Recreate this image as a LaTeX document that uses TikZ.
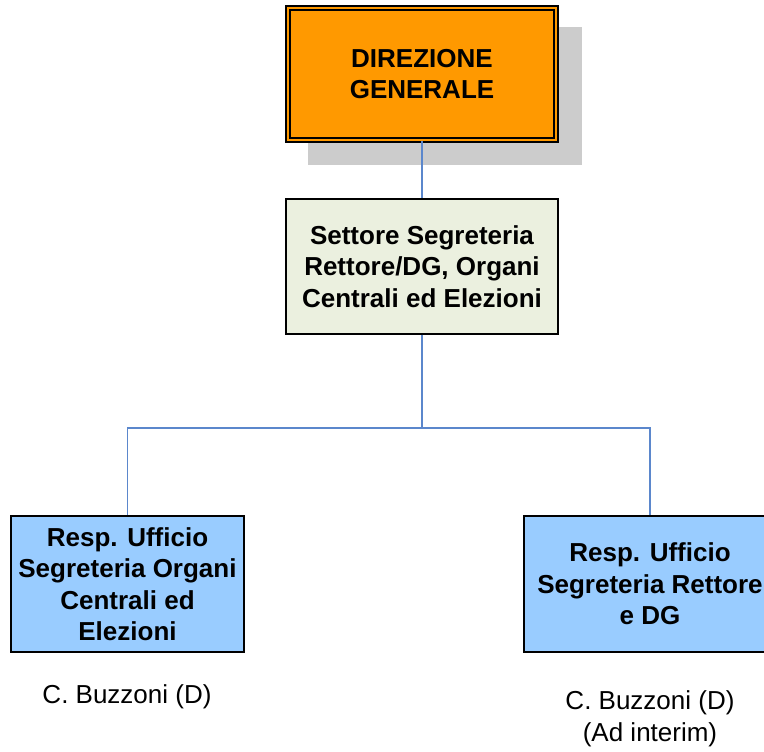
\documentclass[tikz,border=0pt]{standalone}
\usepackage{fontspec}
\setmainfont{Liberation Sans}
\definecolor{dgorange}{HTML}{FF9900}
\definecolor{settfill}{HTML}{EBF0DF}
\definecolor{uffblue}{HTML}{99CCFF}
\definecolor{linkblue}{HTML}{5B87CC}
\definecolor{shadegray}{HTML}{CCCCCC}
\tikzset{
	deptbox/.style = {draw=black, line width=1.3pt, align=center, inner sep=0pt,
		font=\fontsize{26}{31.5}\selectfont\bfseries},
	link/.style = {draw=linkblue, line width=1.3pt},
	respname/.style = {align=center, font=\fontsize{26}{31.5}\selectfont}
}
\begin{document}
\begin{tikzpicture}[x=1pt,y=-1pt]
		\useasboundingbox (0,0) rectangle (764,752);
		\clip (0,0) rectangle (764,752);
		
		\fill [shadegray] (308,27) rectangle (582,165);
		\node (dg) at (422,74) [deptbox, fill=dgorange, double=dgorange, double distance=2.6pt,
			minimum width=268pt, minimum height=132pt] {DIREZIONE\\GENERALE};
		
		\node (sett) at (422,266.5) [deptbox, fill=settfill, minimum width=272pt, minimum height=135pt]
			{Settore Segreteria\\Rettore/DG, Organi\\Centrali ed Elezioni};
		
		\node (uff1) at (127.5,584) [deptbox, fill=uffblue, minimum width=233pt, minimum height=136pt]
			{Resp. Ufficio\\Segreteria Organi\\Centrali ed\\Elezioni};
		\node (uff2) at (650,584) [deptbox, fill=uffblue, minimum width=252pt, minimum height=136pt]
			{Resp. Ufficio\\Segreteria Rettore\\e DG};
		
		\node (resp1) at (127,697) [respname] {C. Buzzoni (D)};
		\node (resp2) at (650,719) [respname] {C. Buzzoni (D)\\(Ad interim)};
		
		\coordinate (split) at (422,428);
		\draw [link] (dg) -- (sett);
		\draw [link] (sett) -- (split);
		\draw [link] (split) -| (uff1);
		\draw [link] (split) -| (uff2);
		\end{tikzpicture}
\end{document}
